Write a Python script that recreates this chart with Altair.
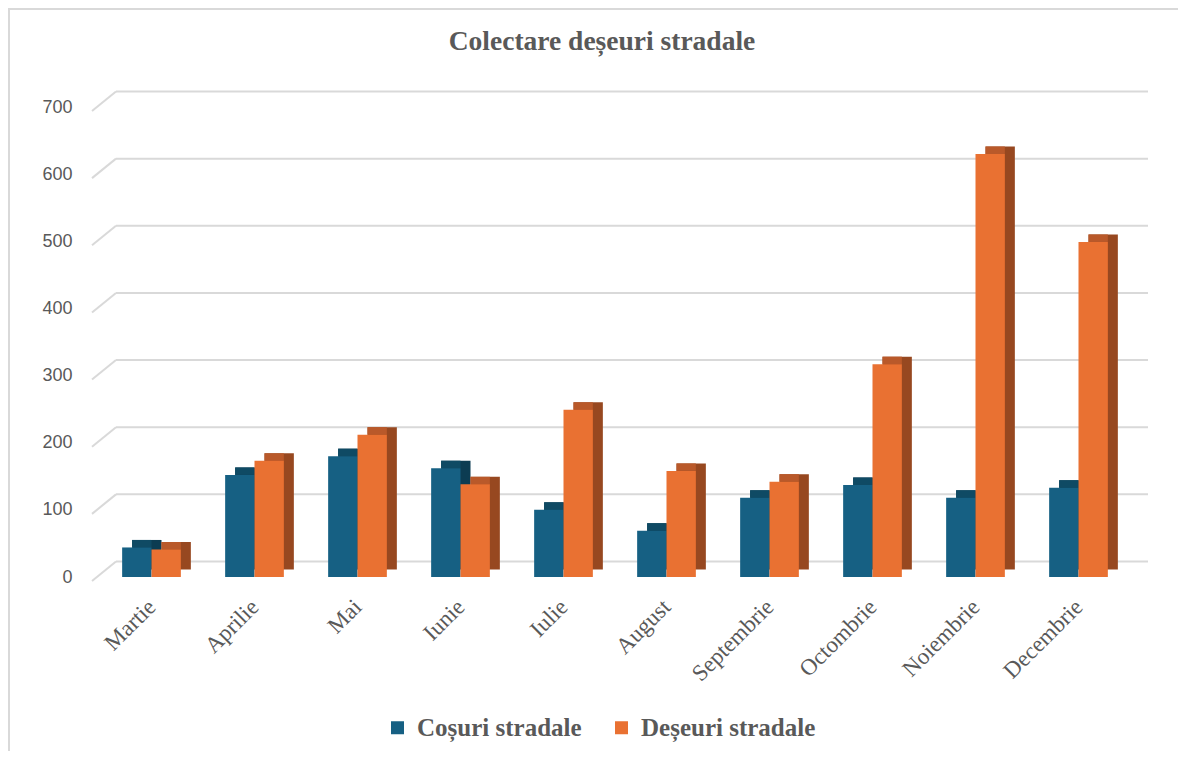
import json
import altair as alt
import pandas as pd

months = ["Martie", "Aprilie", "Mai", "Iunie", "Iulie", "August",
          "Septembrie", "Octombrie", "Noiembrie", "Decembrie"]
series = ["Coșuri stradale", "Deșeuri stradale"]
cosuri = [44, 152, 180, 162, 100, 69, 118, 137, 118, 133]
deseuri = [41, 173, 212, 138, 249, 158, 142, 317, 630, 499]
y_ticks = [0, 100, 200, 300, 400, 500, 600, 700]

front_colors = ["#166083", "#e97132"]
top_colors = ["#0f4a64", "#b9592a"]
side_colors = ["#0c3c52", "#974820"]
GRID = "#d9d9d9"
TXT = "#595959"

rows = []
for i, (m, a, b) in enumerate(zip(months, cosuri, deseuri)):
    rows.append({"idx": i, "luna": m, "serie": series[0], "s": 0, "valoare": a})
    rows.append({"idx": i, "luna": m, "serie": series[1], "s": 1, "valoare": b})
df = pd.DataFrame(rows)
grid_df = pd.DataFrame({"tick": y_ticks})

W, H = 1030, 470
BARW = 0.285  # bar width in category units (group = 2 bars, centred on the month)

yscale = alt.Scale(domain=[0, 700], nice=False, zero=True, padding=0)
xscale = alt.Scale(domain=[-0.5, len(months) - 0.5], nice=False, zero=False, padding=0)

yaxis = alt.Axis(values=y_ticks, grid=False, domain=False, ticks=False,
                 labelFont="Liberation Sans", labelFontSize=18, labelColor=TXT,
                 labelPadding=28, title=None)
label_expr = json.dumps(months) + "[datum.value]"
xaxis = alt.Axis(values=list(range(len(months))), labelExpr=label_expr,
                 labelAngle=-45, labelAlign="right", labelBaseline="middle",
                 labelFont="Liberation Serif", labelFontSize=23, labelColor=TXT,
                 labelPadding=26, domain=False, ticks=False, grid=False, title=None,
                 labelOverlap=False, labelFlush=False)

base = alt.Chart(df).transform_calculate(
    x0=f"datum.idx + (datum.s - 1) * {BARW}",
    x1=f"datum.idx + datum.s * {BARW}",
)
X = alt.X("x0:Q", scale=xscale, axis=xaxis)
X2 = alt.X2("x1:Q")
Y = alt.Y("valoare:Q", scale=yscale, axis=yaxis)
Y0 = alt.Y2(datum=0)

grid_back = alt.Chart(grid_df).mark_rule(color=GRID, strokeWidth=2, yOffset=-15.5).encode(
    x=alt.value(16), x2=alt.value(1048),
    y=alt.Y("tick:Q", scale=yscale, axis=yaxis),
)
grid_slant = alt.Chart(grid_df).mark_rule(color=GRID, strokeWidth=2, yOffset=4, y2Offset=-15.5).encode(
    x=alt.value(-8), x2=alt.value(16),
    y=alt.Y("tick:Q", scale=yscale, axis=yaxis), y2="tick:Q",
)

side = base.mark_bar(xOffset=10, x2Offset=10, yOffset=-7.5, y2Offset=-7.5).encode(
    x=X, x2=X2, y=Y, y2=Y0,
    color=alt.Color("serie:N", sort=series,
                    scale=alt.Scale(domain=series, range=side_colors), legend=None),
)
top = base.mark_bar(xOffset=10, yOffset=-7.5).encode(
    x=X, x2=X2, y=Y, y2="valoare:Q",
    color=alt.Color("serie:N", sort=series,
                    scale=alt.Scale(domain=series, range=top_colors), legend=None),
)
front = base.mark_bar().encode(
    x=X, x2=X2, y=Y, y2=Y0,
    color=alt.Color("serie:N", sort=series,
                    scale=alt.Scale(domain=series, range=front_colors),
                    legend=alt.Legend(orient="none", legendX=285, legendY=608,
                                      direction="horizontal", title=None,
                                      symbolType="square", symbolSize=169,
                                      symbolStrokeWidth=0, labelOffset=7,
                                      columnPadding=27, padding=0, labelLimit=0,
                                      labelFont="Liberation Serif", labelFontSize=25,
                                      labelFontWeight="bold", labelColor=TXT)),
)

border_top = alt.Chart(grid_df).mark_rule(color=GRID, strokeWidth=2).encode(
    x=alt.value(-92), x2=alt.value(1080), y=alt.value(-98))
border_left = alt.Chart(grid_df).mark_rule(color=GRID, strokeWidth=2).encode(
    x=alt.value(-91), y=alt.value(-99), y2=alt.value(650))

chart = alt.layer(border_top, border_left, grid_back, grid_slant, side, top, front).resolve_scale(
    color="independent"
).properties(
    width=W, height=H,
    autosize=alt.AutoSizeParams(type="none"),
    padding={"left": 92, "top": 99, "right": 48, "bottom": 174},
    title=alt.TitleParams("Colectare deșeuri stradale", font="Liberation Serif",
                          fontSize=27.5, fontWeight="bold", color=TXT,
                          anchor="middle", dx=-13, offset=-48, frame="group"),
    background="white",
).configure_view(stroke=None)

chart.save("out.html", embed_options={"renderer": "svg", "actions": False})
